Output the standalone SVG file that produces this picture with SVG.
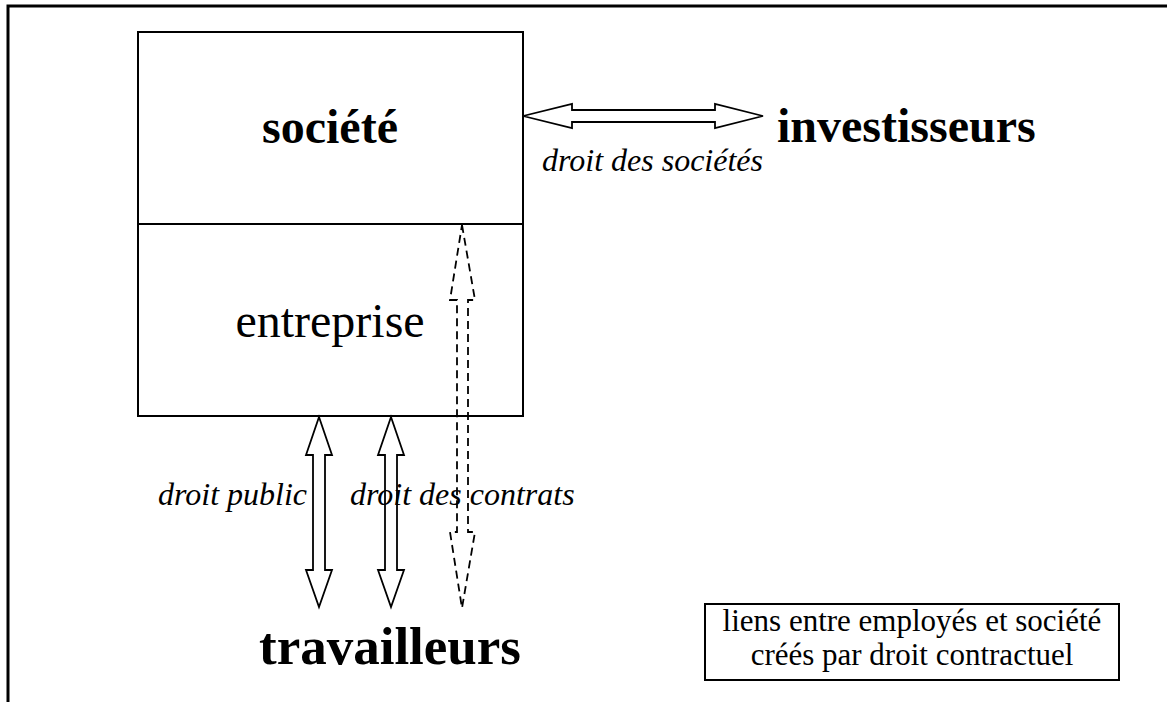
<svg xmlns="http://www.w3.org/2000/svg" width="1167" height="702" viewBox="0 0 1167 702">
<style>
.frame{fill:none;stroke:#000;stroke-width:3}
.box{fill:#fff;stroke:#000;stroke-width:2}
.arr{fill:#fff;stroke:#000;stroke-width:1.8;stroke-linejoin:miter}
.dash{fill:none;stroke:#000;stroke-width:1.8;stroke-dasharray:8,5}
.t{font-family:"Liberation Serif","Times New Roman",serif;fill:#000}
.big{font-size:48px;font-weight:bold}
.reg{font-size:48px}
.it{font-size:32px;font-style:italic}
.leg{font-size:31px}
</style>
<rect width="1167" height="702" fill="#fff"/>
<path class="frame" d="M8,702 V6 H1167"/>
<g id="societe">
<rect class="box" x="138" y="32" width="385" height="192"/>
<text class="t big" x="330" y="143" text-anchor="middle">société</text>
</g>
<g id="entreprise">
<rect class="box" x="138" y="224" width="385" height="192"/>
<text class="t reg" x="330" y="337" text-anchor="middle">entreprise</text>
</g>
<g id="investisseurs">
<text class="t big" x="777" y="142">investisseurs</text>
</g>
<g id="travailleurs">
<text class="t big" x="390" y="664" text-anchor="middle" style="font-size:53px">travailleurs</text>
</g>
<g id="legende">
<rect class="box" x="705" y="604" width="414" height="76"/>
<text class="t leg" x="912" y="631" text-anchor="middle">liens entre employés et société</text>
<text class="t leg" x="912" y="665" text-anchor="middle">créés par droit contractuel</text>
</g>
<g id="connecteurs">
<path class="arr" d="M523,116 L572,104 L572,110 L715,110 L715,104 L763,116 L715,128 L715,122 L572,122 L572,128 Z"/>
<path class="arr" d="M319,417 L332,455 L325,455 L325,570 L332,570 L319,607 L306,570 L313,570 L313,455 L306,455 Z"/>
<path class="arr" d="M391,417 L404,455 L397,455 L397,570 L404,570 L391,607 L378,570 L385,570 L385,455 L378,455 Z"/>
<path class="dash" d="M462,225 L475,300 L468,300 L468,532 L475,532 L462,608 L450,532 L457,532 L457,300 L450,300 Z"/>
<text class="t it" x="542" y="171">droit des sociétés</text>
<text class="t it" x="158" y="505">droit public</text>
<text class="t it" x="350" y="505">droit des contrats</text>
</g>
</svg>
